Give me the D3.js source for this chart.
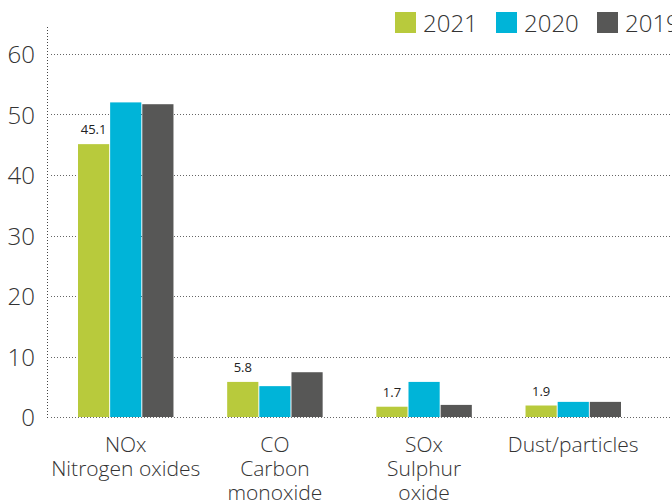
<!DOCTYPE html>
<html>
<head>
<meta charset="utf-8">
<script src="https://cdn.jsdelivr.net/npm/d3@7"></script>
<style>
  body { margin: 0; background: #fff; }
  text { font-family: "Open Sans", "Noto Sans", sans-serif; }
</style>
</head>
<body>
<div id="canvas"></div>
<script>
// data
var categories = ['NOx', 'CO', 'SOx', 'Dust'];
var catLabels = [
    ['NOx', 'Nitrogen oxides'],
    ['CO', 'Carbon', 'monoxide'],
    ['SOx', 'Sulphur', 'oxide'],
    ['Dust/particles']
];
var years = ['2021', '2020', '2019'];
var colors = ['#b8ca3c', '#00b4d8', '#575756'];
var v2021 = [45.1, 5.8, 1.7, 1.9];
var v2020 = [52.0, 5.1, 5.8, 2.5];
var v2019 = [51.7, 7.4, 2.0, 2.5];
var yTicks = [0, 10, 20, 30, 40, 50, 60];

var series = [v2021, v2020, v2019];

var width = 672, height = 501;

var svg = d3.select('#canvas')
    .append('svg')
    .attr('width', width)
    .attr('height', height);

// dotted patterns for grid and axis
var defs = svg.append('defs');
defs.append('pattern')
    .attr('id', 'dotsH')
    .attr('patternUnits', 'userSpaceOnUse')
    .attr('width', 3).attr('height', 1)
    .append('rect')
    .attr('width', 1).attr('height', 1)
    .attr('fill', '#666');
defs.append('pattern')
    .attr('id', 'dotsV')
    .attr('patternUnits', 'userSpaceOnUse')
    .attr('width', 1).attr('height', 3)
    .append('rect')
    .attr('width', 1).attr('height', 1)
    .attr('fill', '#444');

// scales
var y = d3.scaleLinear().domain([0, 60]).range([417, 54]);
var x0 = d3.scaleBand().domain(categories).range([78, 621]).paddingInner(0.36).paddingOuter(0);
var x1 = d3.scaleBand().domain(years).range([0, x0.bandwidth()]).paddingInner(0.03);

// grid
svg.selectAll('.grid')
    .data(yTicks)
    .enter()
    .append('rect')
    .attr('class', 'grid')
    .attr('x', 49)
    .attr('y', function(d){ return Math.round(y(d)); })
    .attr('width', width - 49)
    .attr('height', 1)
    .attr('fill', 'url(#dotsH)');

svg.append('rect')
    .attr('x', 47).attr('y', 27)
    .attr('width', 1).attr('height', 391)
    .attr('fill', 'url(#dotsV)');

// y labels
svg.selectAll('.ytick')
    .data(yTicks)
    .enter()
    .append('text')
    .attr('class', 'ytick')
    .attr('x', 35)
    .attr('y', function(d){ return y(d) + 9; })
    .attr('text-anchor', 'end')
    .attr('fill', '#333')
    .style('font-size', '24px')
    .style('font-weight', 300)
    .text(function(d){ return d; });

// bars
var groups = svg.selectAll('.grp')
    .data(categories)
    .enter()
    .append('g')
    .attr('class', 'grp')
    .attr('transform', function(d){ return 'translate(' + x0(d) + ',0)'; });

groups.selectAll('rect')
    .data(function(d, i){
        return years.map(function(yr, j){ return {year: yr, value: series[j][i], color: colors[j]}; });
    })
    .enter()
    .append('rect')
    .attr('x', function(d){ return x1(d.year); })
    .attr('y', function(d){ return y(d.value); })
    .attr('width', x1.bandwidth())
    .attr('height', function(d){ return y(0) - y(d.value); })
    .attr('fill', function(d){ return d.color; });

// value labels (2021 only)
svg.selectAll('.val')
    .data(categories)
    .enter()
    .append('text')
    .attr('class', 'val')
    .attr('x', function(d){ return x0(d) + x1('2021') + x1.bandwidth() / 2; })
    .attr('y', function(d, i){ return y(v2021[i]) - 10; })
    .attr('text-anchor', 'middle')
    .attr('fill', '#222')
    .style('font-size', '13px')
    .text(function(d, i){ return v2021[i]; });

// category labels
var cl = svg.selectAll('.cat')
    .data(categories)
    .enter()
    .append('text')
    .attr('class', 'cat')
    .attr('text-anchor', 'middle')
    .attr('fill', '#333')
    .style('font-size', '21px')
    .style('font-weight', 300);

cl.selectAll('tspan')
    .data(function(d, i){ return catLabels[i].map(function(t){ return {cat: d, t: t}; }); })
    .enter()
    .append('tspan')
    .attr('x', function(d){ return x0(d.cat) + x0.bandwidth() / 2; })
    .attr('y', function(d, i){ return 452 + i * 24; })
    .text(function(d){ return d.t; });

// legend
var leg = svg.selectAll('.leg')
    .data(years)
    .enter()
    .append('g')
    .attr('class', 'leg')
    .attr('transform', function(d, i){ return 'translate(' + (395 + i * 101) + ',12)'; });

leg.append('rect')
    .attr('width', 21)
    .attr('height', 21)
    .attr('fill', function(d, i){ return colors[i]; });

leg.append('text')
    .attr('x', 28)
    .attr('y', 20)
    .attr('fill', '#333')
    .style('font-size', '24px')
    .style('font-weight', 300)
    .text(function(d){ return d; });
</script>
</body>
</html>
